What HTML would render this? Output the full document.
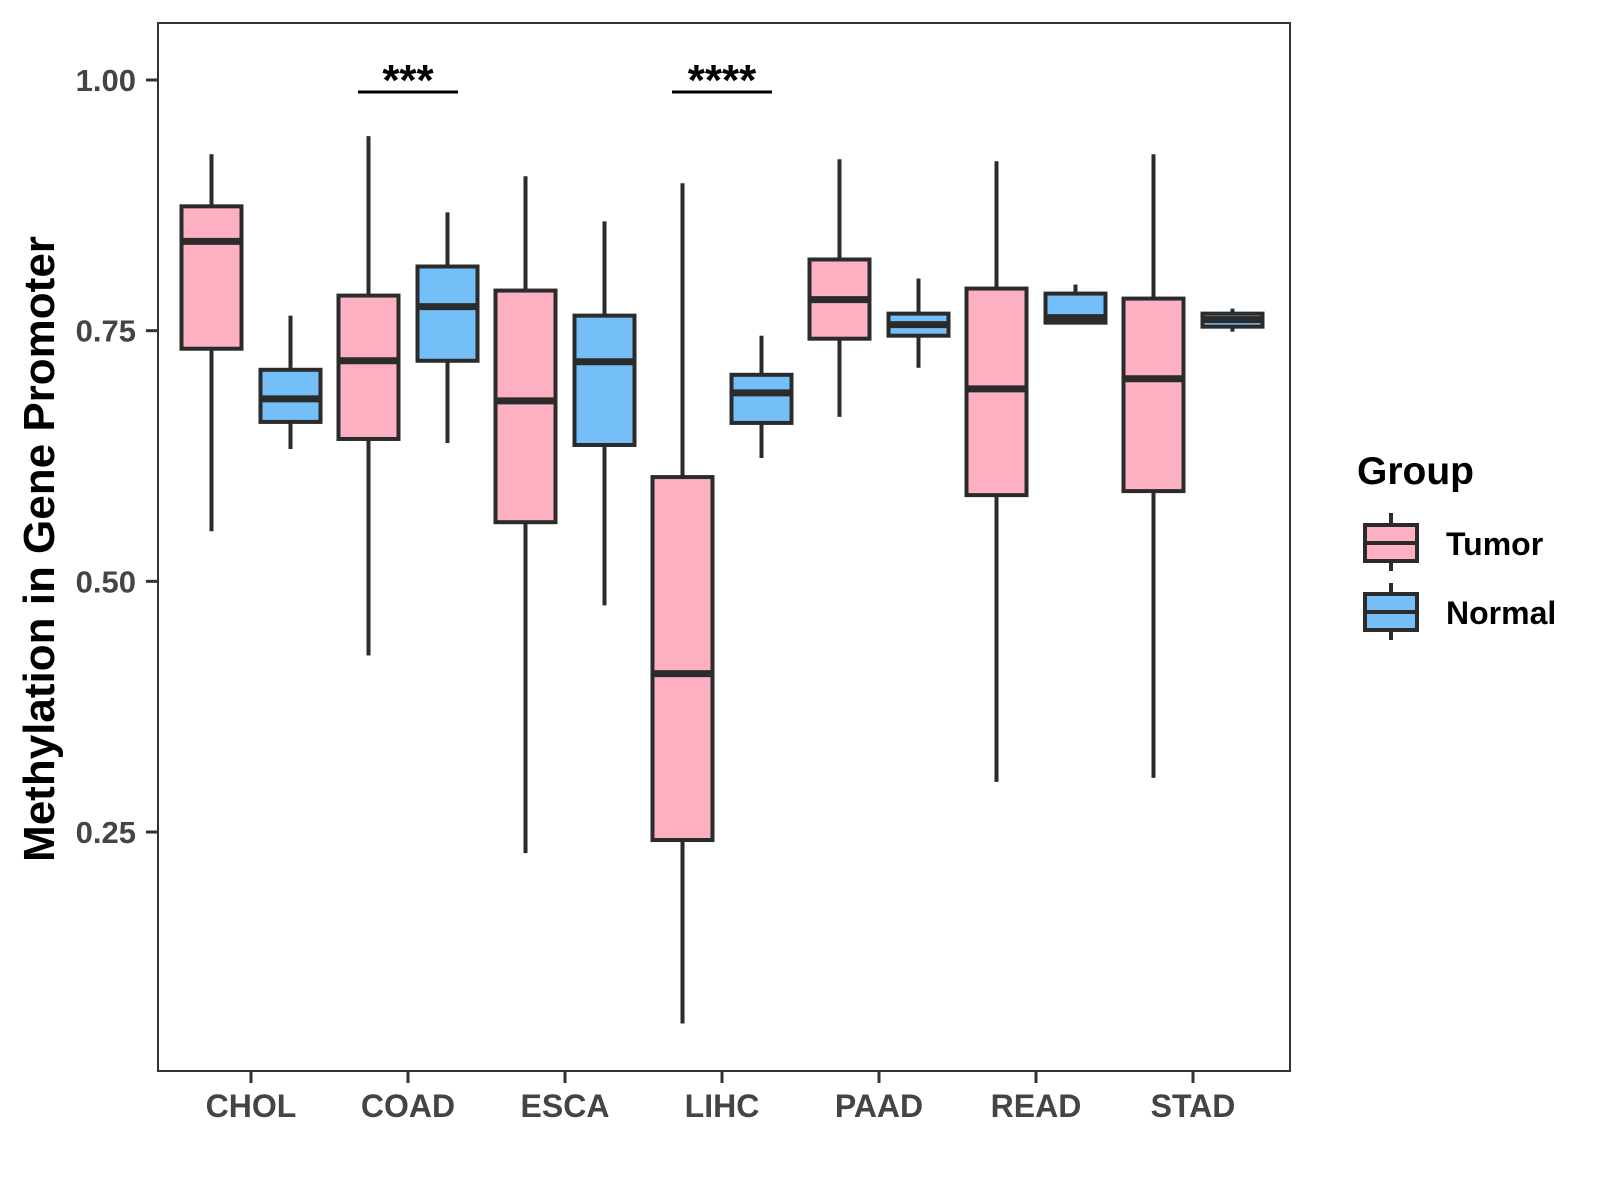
<!DOCTYPE html>
<html><head><meta charset="utf-8"><style>
body{margin:0;background:#fff}
svg{display:block;font-family:"Liberation Sans",Arial,sans-serif;font-weight:bold}
</style></head><body>
<svg id="chart" width="1600" height="1200" viewBox="0 0 1600 1200">
<rect x="158" y="23" width="1132" height="1048" fill="#fff" stroke="#333" stroke-width="2"/>
<g id="yaxis"></g>
<g id="xaxis"></g>
<g id="boxes"></g>
<g id="sig"></g>
<text x="54" y="549" transform="rotate(-90 54 549)" text-anchor="middle" font-size="44" fill="#000">Methylation in Gene Promoter</text>
<g>
<text x="1357" y="484" font-size="39" fill="#000">Group</text>
<g>
<line x1="1391" y1="513" x2="1391" y2="571" stroke="#2b2b2b" stroke-width="4"/>
<rect x="1365" y="525" width="52" height="36" fill="#FDB0C2" stroke="#2b2b2b" stroke-width="4"/>
<line x1="1365" y1="543" x2="1417" y2="543" stroke="#2b2b2b" stroke-width="4"/>
<text x="1446" y="555" font-size="32" fill="#000">Tumor</text>
</g>
<g>
<line x1="1391" y1="583" x2="1391" y2="640" stroke="#2b2b2b" stroke-width="4"/>
<rect x="1365" y="594" width="52" height="36" fill="#74BFF8" stroke="#2b2b2b" stroke-width="4"/>
<line x1="1365" y1="612" x2="1417" y2="612" stroke="#2b2b2b" stroke-width="4"/>
<text x="1446" y="624" font-size="32" fill="#000">Normal</text>
</g>
</g>
</svg>
<script>
const categories=["CHOL","COAD","ESCA","LIHC","PAAD","READ","STAD"];
const tumorLow=[0.550,0.426,0.229,0.059,0.664,0.300,0.304];
const tumorQ1=[0.732,0.642,0.559,0.242,0.742,0.586,0.590];
const tumorMed=[0.839,0.720,0.680,0.408,0.781,0.692,0.702];
const tumorQ3=[0.874,0.785,0.790,0.604,0.821,0.792,0.782];
const tumorHigh=[0.926,0.944,0.904,0.897,0.921,0.919,0.926];
const normalLow=[0.632,0.638,0.476,0.623,0.713,0.758,0.749];
const normalQ1=[0.659,0.720,0.636,0.658,0.745,0.758,0.754];
const normalMed=[0.682,0.774,0.719,0.688,0.756,0.763,0.761];
const normalQ3=[0.711,0.814,0.765,0.706,0.767,0.787,0.767];
const normalHigh=[0.765,0.868,0.859,0.745,0.802,0.796,0.772];
const yTicks=[0.25,0.50,0.75,1.00];
const yTickLabels=["0.25","0.50","0.75","1.00"];
const sigCategories=["COAD","LIHC"];
const sigLabels=["***","****"];
const sigLevel=[0.988,0.988];

const NS="http://www.w3.org/2000/svg";
function yS(v){return 80+(1-v)*1002.7;}
function xS(i){return 251+157*i;}
function mk(tag,attrs,parent){const e=document.createElementNS(NS,tag);for(const k in attrs)e.setAttribute(k,attrs[k]);parent.appendChild(e);return e;}
const ya=document.getElementById('yaxis'),xa=document.getElementById('xaxis'),bx=document.getElementById('boxes'),sg=document.getElementById('sig');
yTicks.forEach((t,i)=>{
  const l=mk('line',{x1:146,x2:157,y1:yS(t),y2:yS(t),stroke:'#333','stroke-width':3},ya);
  
  
  const tx=mk('text',{x:136,y:yS(t)+11,'text-anchor':'end','font-size':31,fill:'#444'},ya);
  tx.textContent=yTickLabels[i];
  
  
});
categories.forEach((c,i)=>{
  const l=mk('line',{x1:xS(i),x2:xS(i),y1:1072,y2:1083,stroke:'#333','stroke-width':3},xa);
  
  
  const tx=mk('text',{x:xS(i),y:1117,'text-anchor':'middle','font-size':32,fill:'#444'},xa);
  tx.textContent=c;
  
  
});
function box(cx,lo,q1,md,q3,hi,fill,name){
  const g=mk('g',{},bx);
  
  
  const w=30;
  mk('line',{x1:cx,x2:cx,y1:yS(hi),y2:yS(q3),stroke:'#2b2b2b','stroke-width':4},g);
  mk('line',{x1:cx,x2:cx,y1:yS(q1),y2:yS(lo),stroke:'#2b2b2b','stroke-width':4},g);
  mk('rect',{x:cx-w,y:yS(q3),width:2*w,height:Math.max(1,yS(q1)-yS(q3)),fill:fill,stroke:'#2b2b2b','stroke-width':4},g);
  mk('line',{x1:cx-w,x2:cx+w,y1:yS(md),y2:yS(md),stroke:'#2b2b2b','stroke-width':7},g);
}
categories.forEach((c,i)=>{
  box(xS(i)-39.5,tumorLow[i],tumorQ1[i],tumorMed[i],tumorQ3[i],tumorHigh[i],'#FDB0C2','box-tumor-'+c.toLowerCase());
  box(xS(i)+39.5,normalLow[i],normalQ1[i],normalMed[i],normalQ3[i],normalHigh[i],'#74BFF8','box-normal-'+c.toLowerCase());
});
sigCategories.forEach((c,k)=>{
  const i=categories.indexOf(c);
  const y=yS(sigLevel[k]);
  const l=mk('line',{x1:xS(i)-50,x2:xS(i)+50,y1:y,y2:y,stroke:'#000','stroke-width':3},sg);
  
  
  const t=mk('text',{x:xS(i),y:y+3,'text-anchor':'middle','font-size':44,fill:'#000'},sg);
  t.textContent=sigLabels[k];
  
  
});
</script>
</body></html>
